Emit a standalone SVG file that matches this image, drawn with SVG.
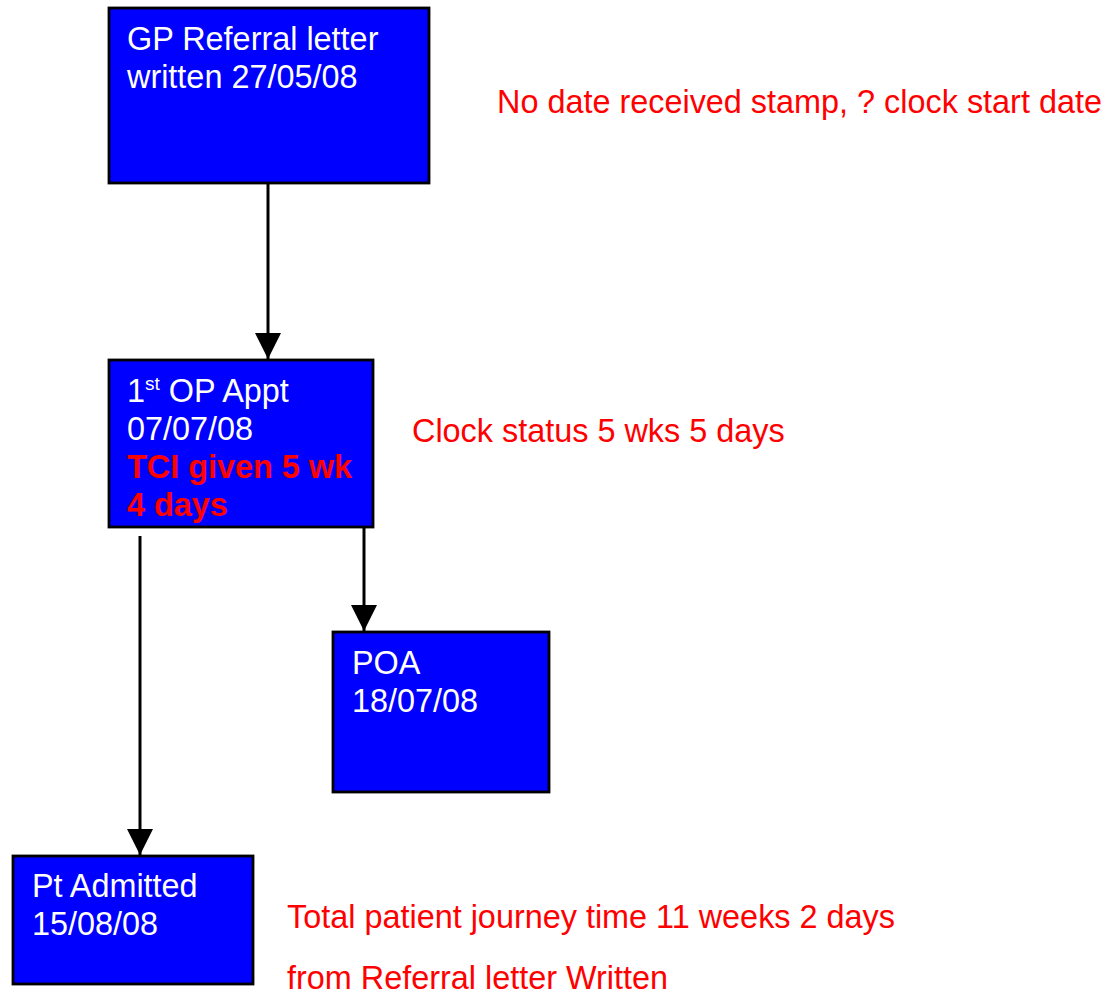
<svg xmlns="http://www.w3.org/2000/svg" width="1112" height="996" viewBox="0 0 1112 996">
<style>
.box{fill:#0000ff;stroke:#000;stroke-width:2.8}
.t{font-family:"Liberation Sans",Arial,sans-serif;font-size:32.4px;fill:#fff}
.r{font-family:"Liberation Sans",Arial,sans-serif;font-size:32.4px;fill:#ff0000}
.b{font-weight:bold}
.sup{font-size:19px}
.line{stroke:#000;stroke-width:3;fill:none}
</style>
<defs>
<marker id="arr" markerUnits="userSpaceOnUse" markerWidth="26" markerHeight="26" refX="26" refY="13" orient="auto" viewBox="0 0 26 26">
<path d="M0,0 L26,13 L0,26 Z" fill="#000"/>
</marker>
</defs>
<rect width="1112" height="996" fill="#fff"/>
<g id="connectors">
<line class="line" x1="268" y1="184" x2="268" y2="359" marker-end="url(#arr)"/>
<line class="line" x1="364" y1="527" x2="364" y2="631" marker-end="url(#arr)"/>
<line class="line" x1="140" y1="536" x2="140" y2="855" marker-end="url(#arr)"/>
</g>
<g id="node-gp">
<rect class="box" x="109" y="8" width="320" height="175"/>
<text class="t" x="127" y="50">GP Referral letter</text>
<text class="t" x="127" y="88">written 27/05/08</text>
</g>
<g id="node-op">
<rect class="box" x="109" y="360" width="264" height="167"/>
<text class="t" x="127" y="402">1<tspan class="sup" dy="-12">st</tspan><tspan dy="12"> OP Appt</tspan></text>
<text class="t" x="127" y="440">07/07/08</text>
<text class="r b" x="127" y="478">TCI given 5 wk</text>
<text class="r b" x="127" y="516">4 days</text>
</g>
<g id="node-poa">
<rect class="box" x="333" y="632" width="216" height="160"/>
<text class="t" x="352" y="674">POA</text>
<text class="t" x="352" y="712">18/07/08</text>
</g>
<g id="node-pt">
<rect class="box" x="13" y="856" width="240" height="128"/>
<text class="t" x="32" y="897">Pt Admitted</text>
<text class="t" x="32" y="935">15/08/08</text>
</g>
<g id="notes">
<text class="r" x="497" y="113">No date received stamp, ? clock start date</text>
<text class="r" x="412" y="442">Clock status 5 wks 5 days</text>
<text class="r" x="287" y="928">Total patient journey time 11 weeks 2 days</text>
<text class="r" x="287" y="989">from Referral letter Written</text>
</g>
</svg>
